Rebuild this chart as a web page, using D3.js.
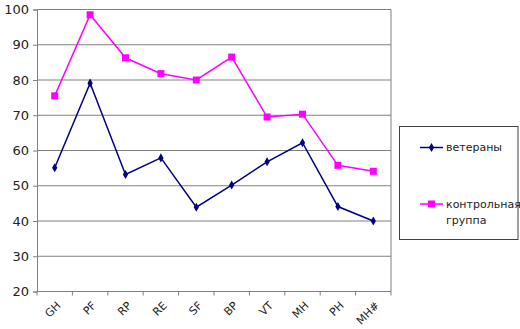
<!DOCTYPE html>
<html>
<head>
<meta charset="utf-8">
<script src="https://cdn.jsdelivr.net/npm/d3@7"></script>
<style>
  html, body { margin: 0; padding: 0; background: #fff; }
  svg { display: block; font-family: "DejaVu Sans", Verdana, sans-serif; }
</style>
</head>
<body>
<svg id="chart" width="520" height="329"></svg>
<script>
// Scale categories (SF-36 style)
const categories = ["GH", "PF", "RP", "RE", "SF", "BP", "VT", "MH", "PH", "MH#"];
const veterans = [55.1, 79.1, 53.2, 57.9, 43.9, 50.2, 56.8, 62.2, 44.1, 40.0];
const control  = [75.5, 98.5, 86.3, 81.8, 80.0, 86.5, 69.5, 70.3, 55.8, 54.1];
const yTicks = [20, 30, 40, 50, 60, 70, 80, 90, 100];
const seriesNames = ["ветераны", "контрольная группа"];

const svg = d3.select("#chart");
const plot = { left: 37, right: 391, top: 9.5, bottom: 291.5 };

const x = d3.scaleBand().domain(categories).range([plot.left, plot.right]);
const y = d3.scaleLinear().domain([20, 100]).range([plot.bottom, plot.top]);

// Horizontal gridlines
svg.append("g").selectAll("line").data(yTicks.filter(d => d > 20)).join("line")
  .attr("x1", plot.left).attr("x2", plot.right)
  .attr("y1", d => y(d)).attr("y2", d => y(d))
  .attr("stroke", "#808080").attr("stroke-width", 1);

// Right border of the plot area
svg.append("line")
  .attr("x1", plot.right).attr("x2", plot.right)
  .attr("y1", plot.top).attr("y2", plot.bottom)
  .attr("stroke", "#808080");

// Y axis
const yAxis = svg.append("g")
  .attr("transform", `translate(${plot.left},0)`)
  .call(d3.axisLeft(y).tickValues(yTicks).tickSize(4).tickPadding(4));
yAxis.select(".domain").attr("stroke", "#808080");
yAxis.selectAll(".tick line").attr("stroke", "#808080");
yAxis.selectAll("text").attr("font-size", 13).attr("fill", "#222")
  .attr("font-family", "DejaVu Sans, Verdana, sans-serif");

// X axis with ticks on category boundaries
const xAxis = svg.append("g").attr("transform", `translate(0,${plot.bottom})`);
xAxis.append("line")
  .attr("x1", plot.left).attr("x2", plot.right)
  .attr("stroke", "#808080");
const bounds = categories.map(c => x(c)).concat([plot.right]);
xAxis.selectAll("line.tk").data(bounds).join("line").attr("class", "tk")
  .attr("x1", d => d).attr("x2", d => d).attr("y1", 0).attr("y2", 4)
  .attr("stroke", "#808080");
xAxis.selectAll("text").data(categories).join("text")
  .attr("transform", d => `translate(${x(d) + x.bandwidth() / 2 + 4},${12}) rotate(-45)`)
  .attr("text-anchor", "end")
  .attr("dy", "0.35em")
  .attr("font-size", 11)
  .attr("fill", "#222")
  .text(d => d);

const cx = d => x(d) + x.bandwidth() / 2;
const line = d3.line().x(d => cx(d.c)).y(d => y(d.v));

function drawSeries(values, color, marker) {
  const pts = categories.map((c, i) => ({ c, v: values[i] }));
  svg.append("path").datum(pts)
    .attr("d", line).attr("fill", "none")
    .attr("stroke", color).attr("stroke-width", 1.5);
  const g = svg.append("g");
  if (marker === "diamond") {
    g.selectAll("path").data(pts).join("path")
      .attr("d", d3.symbol(d3.symbolDiamond, 24)())
      .attr("transform", d => `translate(${cx(d.c)},${y(d.v)})`)
      .attr("fill", color);
  } else {
    g.selectAll("rect").data(pts).join("rect")
      .attr("x", d => cx(d.c) - 3.5).attr("y", d => y(d.v) - 3.5)
      .attr("width", 7).attr("height", 7)
      .attr("fill", color);
  }
}
drawSeries(veterans, "#000080", "diamond");
drawSeries(control, "#ff00ff", "square");

// Legend
const lg = svg.append("g");
lg.append("rect")
  .attr("x", 399.5).attr("y", 126.5).attr("width", 118.5).attr("height", 113)
  .attr("fill", "#fff").attr("stroke", "#404040");
const legendItems = [
  { name: seriesNames[0], color: "#000080", marker: "diamond", y: 147.5, lines: ["ветераны"] },
  { name: seriesNames[1], color: "#ff00ff", marker: "square", y: 204, lines: ["контрольная", "группа"] }
];
legendItems.forEach(it => {
  lg.append("line").attr("x1", 420).attr("x2", 443)
    .attr("y1", it.y).attr("y2", it.y).attr("stroke", it.color).attr("stroke-width", 1.5);
  if (it.marker === "diamond") {
    lg.append("path").attr("d", d3.symbol(d3.symbolDiamond, 24)())
      .attr("transform", `translate(431.5,${it.y})`).attr("fill", it.color);
  } else {
    lg.append("rect").attr("x", 428).attr("y", it.y - 3.5)
      .attr("width", 7).attr("height", 7).attr("fill", it.color);
  }
  const t = lg.append("text").attr("x", 446).attr("y", it.y)
    .attr("dy", "0.35em").attr("font-size", 11).attr("fill", "#222");
  it.lines.forEach((s, i) => {
    t.append("tspan").attr("x", 446).attr("dy", i === 0 ? "0.35em" : "1.45em").text(s);
  });
});
</script>
</body>
</html>
